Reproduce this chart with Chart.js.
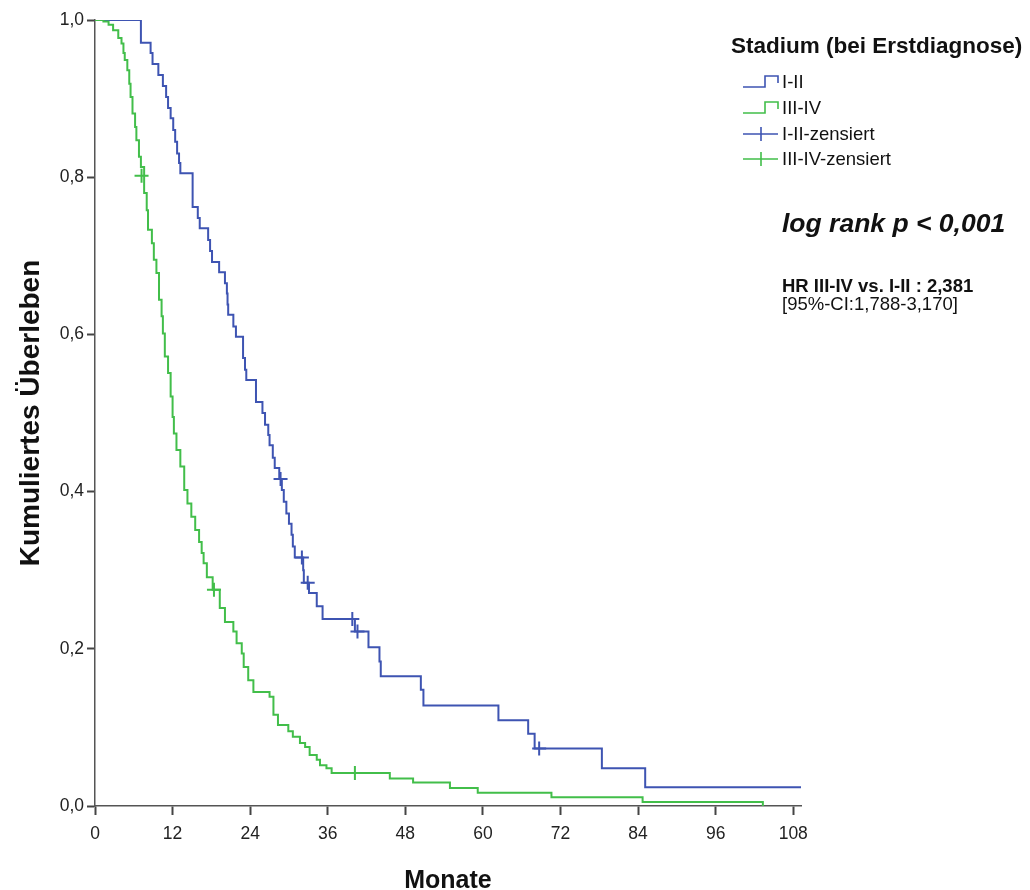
<!DOCTYPE html>
<html lang="de">
<head>
<meta charset="UTF-8">
<title>Kumuliertes Überleben nach Stadium</title>
<style>
  html, body { margin: 0; padding: 0; background: #fff; }
  #wrap { width: 1030px; height: 890px; }
</style>
</head>
<body>
<div id="wrap"><canvas id="kmChart" width="1030" height="890"></canvas></div>

<script src="https://cdn.jsdelivr.net/npm/chart.js"></script>
<script>
    // Kaplan-Meier Stufen: Monat des Ereignisses / Überleben danach
    const monateI_II = [0, 7.1, 8.6, 8.9, 9.8, 10.5, 11.0, 11.3, 11.7, 12.1, 12.4, 12.7, 13.0, 13.2,
        15.1, 15.9, 16.2, 17.5, 17.8, 18.1, 19.2, 20.1, 20.4, 20.5, 20.6, 21.4, 21.8, 22.9, 23.2, 23.4,
        24.9, 25.9, 26.3, 26.8, 27.0, 27.5, 27.8, 28.5, 28.9, 29.2, 29.6, 30.0, 30.4, 30.6, 30.9,
        32.2, 32.3, 33.1, 34.3, 35.2, 40.2, 42.3, 44.0, 44.2, 50.4, 50.8, 62.4, 67.0, 68.0, 78.4, 85.1, 109.2];
    const survI_II = [1.0, 0.971, 0.958, 0.944, 0.930, 0.916, 0.902, 0.888, 0.875, 0.860, 0.845, 0.830, 0.818, 0.805,
        0.762, 0.748, 0.735, 0.720, 0.706, 0.692, 0.679, 0.665, 0.652, 0.638, 0.625, 0.610, 0.597, 0.570, 0.555, 0.542,
        0.514, 0.500, 0.485, 0.472, 0.459, 0.443, 0.430, 0.416, 0.402, 0.387, 0.372, 0.359, 0.345, 0.330, 0.316,
        0.300, 0.284, 0.271, 0.254, 0.238, 0.222, 0.202, 0.184, 0.165, 0.148, 0.128, 0.109, 0.092, 0.073, 0.048, 0.024, 0.024];

    const monateIII_IV = [0, 1.3, 2.1, 2.8, 3.6, 4.1, 4.4, 4.6, 5.0, 5.3, 5.5, 5.8, 6.2, 6.4, 6.8, 7.1,
        7.6, 8.0, 8.2, 8.8, 9.1, 9.5, 9.9, 10.3, 10.5, 10.8, 11.3, 11.7, 12.0, 12.2, 12.6, 13.2, 13.8,
        14.3, 14.9, 15.5, 16.1, 16.5, 16.8, 17.3, 18.2, 19.3, 20.1, 21.4, 21.9, 22.7, 23.0, 23.7, 24.5,
        27.0, 27.6, 28.3, 29.9, 30.6, 31.7, 32.5, 33.2, 34.3, 34.8, 35.8, 36.6, 45.6, 49.2, 54.9, 59.2,
        70.6, 84.7, 103.3];
    const survIII_IV = [1.0, 0.998, 0.994, 0.987, 0.977, 0.970, 0.958, 0.949, 0.936, 0.919, 0.902, 0.881, 0.864, 0.847, 0.826, 0.813,
        0.780, 0.758, 0.733, 0.716, 0.695, 0.678, 0.644, 0.623, 0.601, 0.572, 0.551, 0.521, 0.495, 0.474, 0.453, 0.432, 0.402,
        0.385, 0.368, 0.351, 0.336, 0.322, 0.309, 0.291, 0.275, 0.252, 0.234, 0.222, 0.207, 0.194, 0.177, 0.160, 0.145,
        0.139, 0.116, 0.103, 0.095, 0.088, 0.080, 0.075, 0.065, 0.059, 0.052, 0.048, 0.042, 0.035, 0.030, 0.023, 0.017,
        0.011, 0.005, 0.0];

    // zensierte Fälle
    const zensMonateI_II = [28.7, 32.0, 32.9, 39.8, 40.6, 68.7];
    const zensSurvI_II = [0.416, 0.316, 0.284, 0.238, 0.222, 0.073];
    const zensMonateIII_IV = [7.2, 18.4, 40.2];
    const zensSurvIII_IV = [0.802, 0.275, 0.042];

    const xTicks = [0, 12, 24, 36, 48, 60, 72, 84, 96, 108];
    const yTicks = [0, 0.2, 0.4, 0.6, 0.8, 1.0];
    const legendTexte = ['I-II', 'III-IV', 'I-II-zensiert', 'III-IV-zensiert'];

    const FONT = "'Liberation Sans', Arial, sans-serif";
    const blau = 'rgb(62, 84, 178)';
    const gruen = 'rgb(66, 190, 74)';

    function punkte(xs, ys) {
        return xs.map(function (x, i) { return { x: x, y: ys[i] }; });
    }

    function komma(v) {
        return v.toFixed(1).replace('.', ',');
    }

    // Legende und Statistik rechts neben dem Diagramm
    const legendePlugin = {
        id: 'kmLegende',
        afterDraw(chart) {
            const ctx = chart.ctx;
            ctx.save();
            ctx.fillStyle = '#111';
            ctx.textBaseline = 'middle';
            ctx.textAlign = 'left';

            ctx.font = 'bold 22.5px ' + FONT;
            ctx.fillText('Stadium (bei Erstdiagnose)', 731, 47);

            const zeilen = [83, 109, 135, 160];
            const farben = [blau, gruen, blau, gruen];
            ctx.lineWidth = 1.6;
            for (let i = 0; i < zeilen.length; i++) {
                const c = zeilen[i];
                ctx.strokeStyle = farben[i];
                ctx.beginPath();
                if (i < 2) {
                    ctx.moveTo(743, c + 4);
                    ctx.lineTo(765, c + 4);
                    ctx.lineTo(765, c - 7);
                    ctx.lineTo(778, c - 7);
                    ctx.lineTo(778, c);
                } else {
                    ctx.moveTo(743, c - 1);
                    ctx.lineTo(778, c - 1);
                    ctx.moveTo(761, c - 8);
                    ctx.lineTo(761, c + 6);
                }
                ctx.stroke();
                ctx.font = '18.5px ' + FONT;
                ctx.fillText(legendTexte[i], 782, c);
            }

            ctx.font = 'italic bold 26.5px ' + FONT;
            ctx.fillText('log rank p < 0,001', 782, 225);

            ctx.font = 'bold 18.5px ' + FONT;
            ctx.fillText('HR III-IV vs. I-II : 2,381', 782, 287);
            ctx.font = '18.5px ' + FONT;
            ctx.fillText('[95%-CI:1,788-3,170]', 782, 305);
            ctx.restore();
        }
    };

    const ctxKm = document.getElementById('kmChart');

    new Chart(ctxKm, {
        type: 'scatter',
        data: {
            datasets: [
                {
                    label: 'III-IV',
                    data: punkte(monateIII_IV, survIII_IV),
                    showLine: true,
                    stepped: true,
                    borderColor: gruen,
                    borderWidth: 2,
                    pointRadius: 0,
                    fill: false
                },
                {
                    label: 'I-II',
                    data: punkte(monateI_II, survI_II),
                    showLine: true,
                    stepped: true,
                    borderColor: blau,
                    borderWidth: 2,
                    pointRadius: 0,
                    fill: false
                },
                {
                    label: 'I-II-zensiert',
                    data: punkte(zensMonateI_II, zensSurvI_II),
                    showLine: false,
                    pointStyle: 'cross',
                    pointRadius: 7,
                    borderColor: blau,
                    pointBorderWidth: 2
                },
                {
                    label: 'III-IV-zensiert',
                    data: punkte(zensMonateIII_IV, zensSurvIII_IV),
                    showLine: false,
                    pointStyle: 'cross',
                    pointRadius: 7,
                    borderColor: gruen,
                    pointBorderWidth: 2
                }
            ]
        },
        options: {
            responsive: false,
            animation: false,
            layout: {
                padding: { top: 20, right: 229, bottom: 0, left: 0 }
            },
            scales: {
                x: {
                    type: 'linear',
                    min: 0,
                    max: 109.2,
                    afterFit: function (scale) { scale.height = 84; },
                    afterBuildTicks: function (scale) {
                        scale.ticks = xTicks.map(function (v) { return { value: v }; });
                    },
                    ticks: {
                        includeBounds: false,
                        font: { family: FONT, size: 17.5 },
                        color: '#222',
                        padding: 9,
                        maxRotation: 0,
                        callback: function (v) { return v; }
                    },
                    grid: {
                        display: true,
                        drawOnChartArea: false,
                        tickLength: 9,
                        tickColor: '#444',
                        tickWidth: 2
                    },
                    border: { display: true, color: '#555', width: 1.5 },
                    title: {
                        display: true,
                        text: 'Monate',
                        color: '#111',
                        font: { family: FONT, size: 25, weight: 'bold', lineHeight: 1 },
                        padding: { top: 0, bottom: -4 }
                    }
                },
                y: {
                    min: 0,
                    max: 1,
                    afterFit: function (scale) { scale.width = 95; },
                    afterBuildTicks: function (scale) {
                        scale.ticks = yTicks.map(function (v) { return { value: v }; });
                    },
                    ticks: {
                        font: { family: FONT, size: 17.5 },
                        color: '#222',
                        padding: 3,
                        callback: function (v) { return komma(v); }
                    },
                    grid: {
                        display: true,
                        drawOnChartArea: false,
                        tickLength: 8,
                        tickColor: '#444',
                        tickWidth: 2
                    },
                    border: { display: true, color: '#555', width: 1.5 },
                    title: {
                        display: true,
                        text: 'Kumuliertes Überleben',
                        color: '#111',
                        font: { family: FONT, size: 28, weight: 'bold', lineHeight: 1 },
                        padding: { top: 17, bottom: 0 }
                    }
                }
            },
            plugins: {
                legend: { display: false },
                tooltip: { enabled: false }
            }
        },
        plugins: [legendePlugin]
    });
</script>
</body>
</html>
